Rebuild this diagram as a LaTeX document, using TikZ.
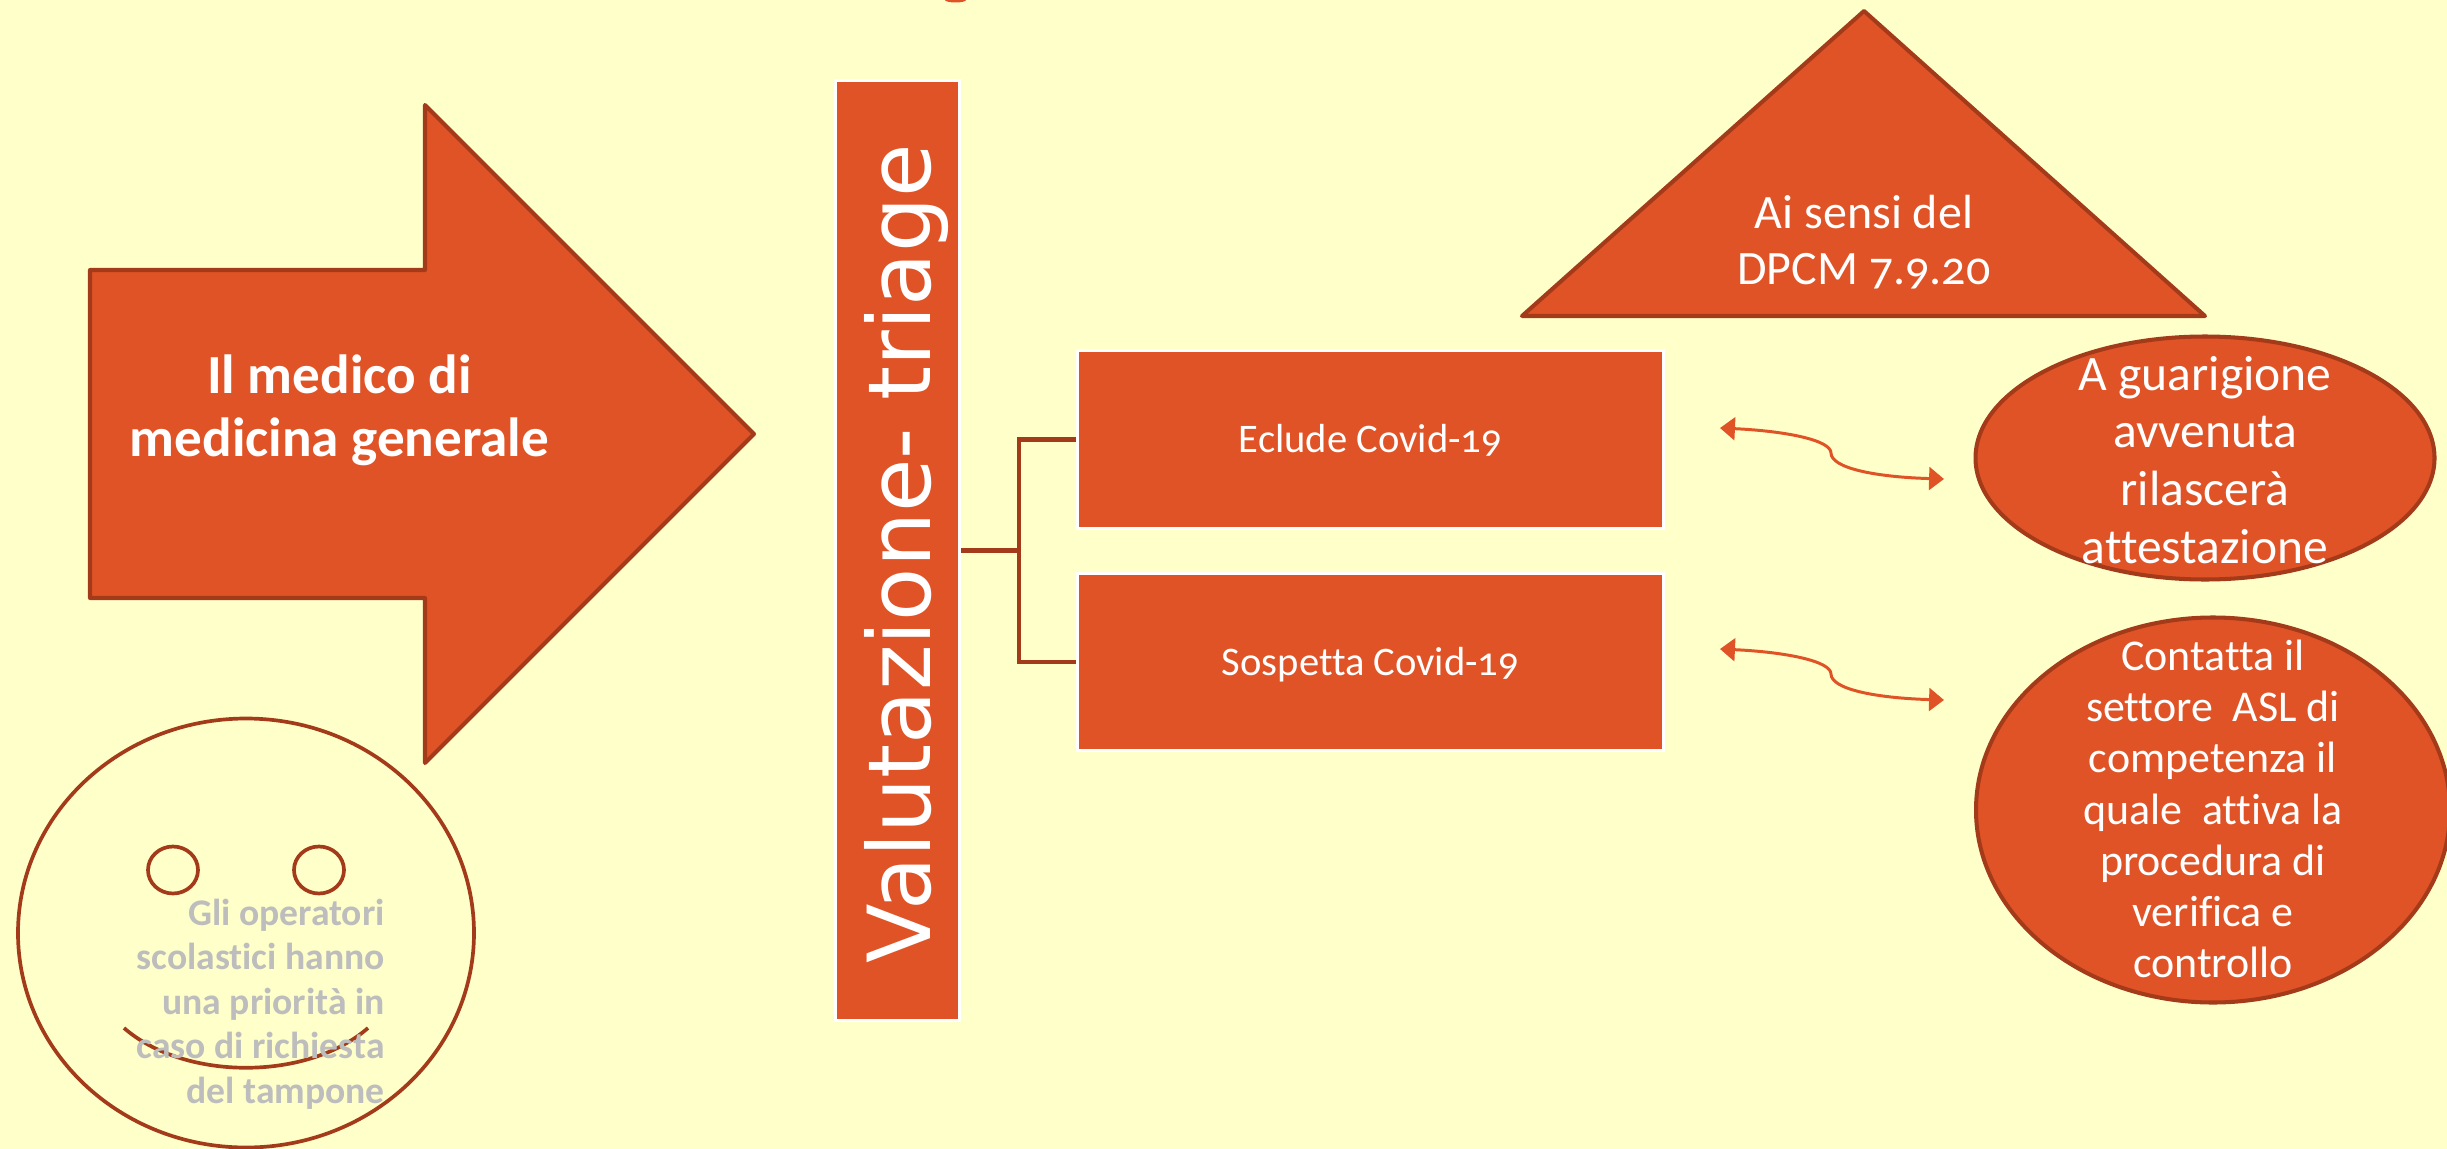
\documentclass[tikz,border=0pt]{standalone}
\usepackage{fontspec}
\setmainfont{Carlito}[Numbers=OldStyle,Ligatures=NoCommon]
\newfontfamily\valfont{DejaVu Sans}
\usetikzlibrary{arrows.meta,shapes.geometric}
\definecolor{bgyellow}{HTML}{FFFFCA}
\definecolor{redfill}{HTML}{E05326}
\definecolor{reddark}{HTML}{A33A1A}
\definecolor{greytext}{HTML}{BDBDBD}
\def\pxu{0.02cm}

\tikzset{
  shapeline/.style = {draw=reddark, line width=2.3pt, fill=redfill, line join=round},
  faceline/.style  = {draw=reddark, line width=2.1pt},
  box/.style       = {shape=rectangle, draw=white, line width=2.1pt, fill=redfill,
                      text=white, inner sep=0pt, align=center},
  oval/.style      = {shape=ellipse, shapeline, inner sep=0pt},
  ovaltext/.style  = {text=white, inner sep=0pt, align=center},
  eyeoval/.style   = {shape=ellipse, faceline, inner sep=0pt,
                      minimum width=50*\pxu, minimum height=47*\pxu},
  fork/.style      = {draw=reddark, line width=2.6pt},
  swing/.style     = {draw=redfill, line width=1.7pt, {Triangle[length=8.5pt,width=13pt]}-{Triangle[length=8.5pt,width=13pt]}},
  small/.style     = {font=\fontsize{23.1}{27}\selectfont, text height=19.4pt, text depth=4.6pt}
}

\begin{document}
\begin{tikzpicture}[x=\pxu, y=-\pxu]
 \clip (0,0) rectangle (2447,1149);
 \fill[bgyellow] (0,0) rectangle (2447,1149);
 \fill[redfill] (945,0) arc[start angle=180, end angle=360, x radius=10.5, y radius=-2.5] -- cycle;

 % big arrow
 \draw[shapeline] (90,270) -- (425,270) -- (425,105) -- (754,434) -- (425,763) -- (425,598) -- (90,598) -- cycle;
 \node [text=white, align=center, font=\bfseries\fontsize{31.4}{36}\selectfont] (medico) at (339.5,410) {Il medico di\\medicina generale};

 % smile
 \node [shape=ellipse, faceline, minimum width=456*\pxu, minimum height=429*\pxu] (face) at (246,933) {};
 \node [eyeoval] (lefteye) at (173,870) {};
 \node [eyeoval] (righteye) at (319,870) {};
 \coordinate (smilea) at (124,1028);
 \coordinate (smileb) at (368,1028);
 \draw[faceline] (smilea) .. controls (185,1081) and (307,1081) .. (smileb);
 \node [text=greytext, align=right, anchor=east, inner sep=0pt, font=\bfseries\fontsize{21.4}{25.3}\selectfont] (operatori) at (385,1004)
   {Gli operatori\\scolastici hanno\\una priorità in\\caso di richiesta\\del tampone};

 % triage
 \node [box, minimum width=124*\pxu, minimum height=940*\pxu] (triage) at (897.5,550.5) {};
 \node [rotate=90, anchor=base, text=white, font=\valfont\fontsize{49.5}{55}\selectfont] (triagetext) at (930,554) {Valutazione- triage};

 \node [box, small, minimum width=586*\pxu, minimum height=178*\pxu] (eclude) at (1370.5,439.5) {Eclude Covid-19};
 \node [box, small, minimum width=586*\pxu, minimum height=177*\pxu] (sospetta) at (1370.5,662) {Sospetta Covid-19};

 \coordinate (forkmid) at (1019,550.5);
 \draw[fork] (triage) -- (forkmid);
 \draw[fork] (forkmid) |- (eclude);
 \draw[fork] (forkmid) |- (sospetta);

 % triangle
 \draw[shapeline] (1864,11) -- (2205,316) -- (1522,316) -- cycle;
 \node [text=white, align=center, font=\fontsize{27.3}{31.7}\selectfont] (sensi) at (1864,242) {Ai sensi del\\DPCM 7.9.20};

 \node [oval, minimum width=459*\pxu, minimum height=243*\pxu] (guarigione) at (2205,458) {};
 \node [ovaltext, font=\fontsize{28.2}{32.9}\selectfont] (guarigionetext) at (2205,460)
   {A guarigione\\avvenuta\\rilascerà\\attestazione};
 \node [oval, minimum width=474*\pxu, minimum height=385*\pxu] (contatta) at (2213,810) {};
 \node [ovaltext, font=\fontsize{25}{29.1}\selectfont] (contattatext) at (2213,809)
   {Contatta il\\settore\ \ ASL di\\competenza il\\quale\ \ attiva la\\procedura di\\verifica e\\controllo};

 % double arrows
 \coordinate (swinga) at (1720,428);
 \coordinate (swingb) at (1944,479);
 \coordinate (swingc) at (1720,649);
 \coordinate (swingd) at (1944,700);
 \draw[swing] (swinga) .. controls (1785,431) and (1831,440) .. (1831,453) .. controls (1831,468) and (1875,477) .. (swingb);
 \draw[swing] (swingc) .. controls (1785,652) and (1831,661) .. (1831,674) .. controls (1831,689) and (1875,698) .. (swingd);
\end{tikzpicture}
\end{document}
